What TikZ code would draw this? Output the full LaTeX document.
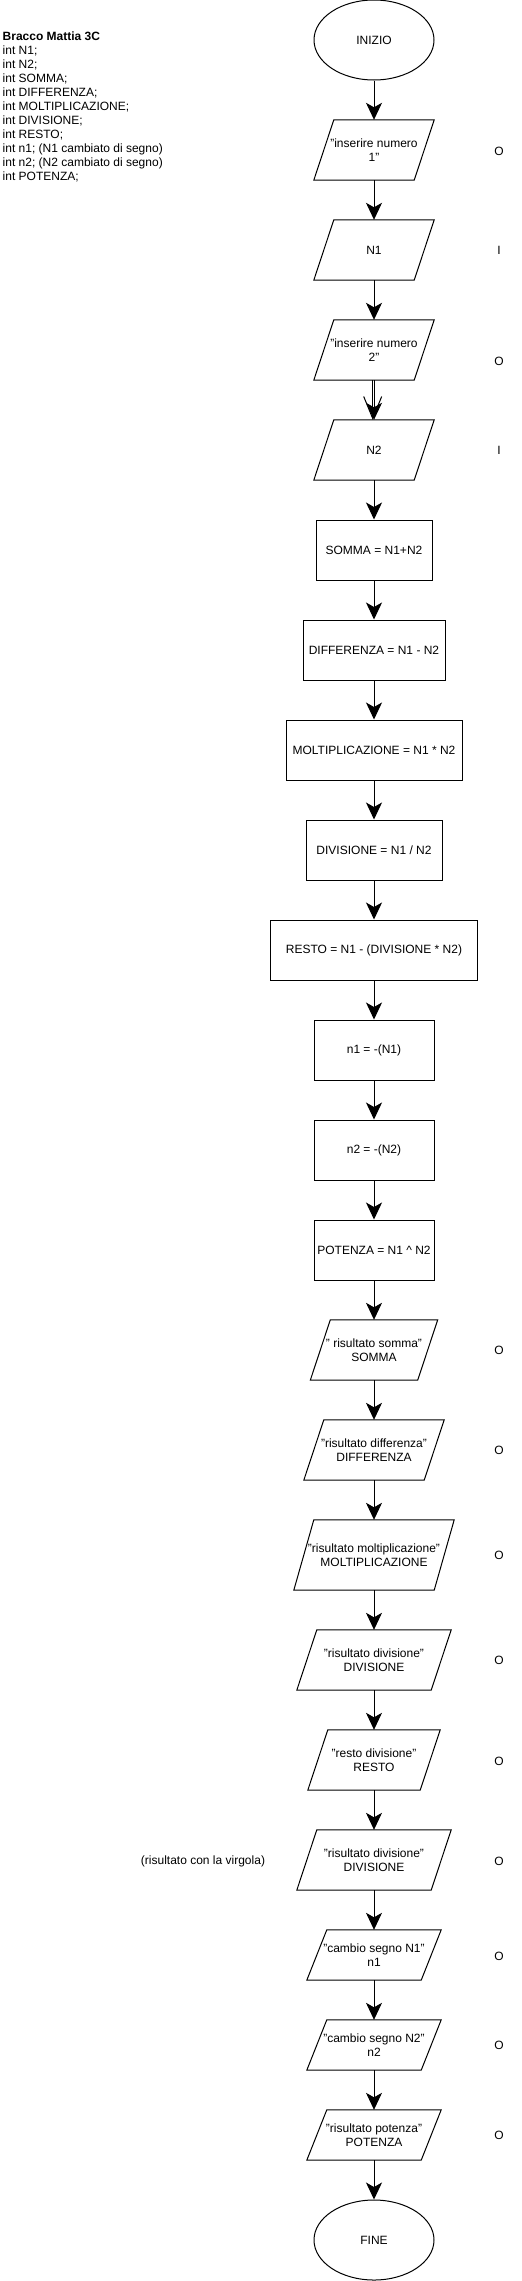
\documentclass[tikz,border=0pt]{standalone}
\usepackage{fontspec}
\setmainfont{Liberation Sans}
\usetikzlibrary{positioning,shapes.geometric,arrows.meta}

\begin{document}
\begin{tikzpicture}[x=1pt,y=-1pt,
	every node/.style={font=\fontsize{12}{14}\selectfont, align=center, inner sep=0pt},
	box/.style={draw, line width=1pt, minimum height=60pt, minimum width=#1},
	term/.style={draw, line width=1pt, ellipse, minimum width=120pt, minimum height=80pt},
	io/.style 2 args={minimum width=#1, minimum height=#2},
	flow/.style={line width=1pt, -{Stealth[length=17pt,width=16pt,inset=4.5pt]}},
	openflow/.style={line width=1pt, -{Straight Barb[length=22pt,width=18pt]}}]

\useasboundingbox (0,0) rectangle (522,2281);

% dichiarazioni
\node[anchor=base west, font=\fontsize{12}{14}\selectfont\bfseries] (title) at (2.5,40.3) {Bracco Mattia 3C};
\foreach \t [count=\i] in {int N1;, int N2;, int SOMMA;, int DIFFERENZA;, int MOLTIPLICAZIONE;, int DIVISIONE;, int RESTO;, int n1; (N1 cambiato di segno), int n2; (N2 cambiato di segno), int POTENZA;}
	\node[anchor=base west] (decl\i) at (2.5,40.3+14*\i) {\t};

% flusso
\node[term] (start) at (374,40) {INIZIO};
\node[io={100pt}{60pt}] (in1) at (374,150) {"inserire numero\\1"};
\node[io={100pt}{60pt}] (num1) at (374,250) {N1};
\node[io={100pt}{60pt}] (in2) at (374,350) {"inserire numero\\2"};
\node[io={100pt}{60pt}] (num2) at (374,450) {N2};
\node[box=116pt] (somma) at (374,550) {SOMMA = N1+N2};
\node[box=142pt] (diff) at (374,650) {DIFFERENZA = N1 - N2};
\node[box=176pt] (molt) at (374,750) {MOLTIPLICAZIONE = N1 * N2};
\node[box=136pt] (div) at (374,850) {DIVISIONE = N1 / N2};
\node[box=207pt] (resto) at (374,950) {RESTO = N1 - (DIVISIONE * N2)};
\node[box=120pt] (neg1) at (374,1050) {n1 = -(N1)};
\node[box=120pt] (neg2) at (374,1150) {n2 = -(N2)};
\node[box=120pt] (pot) at (374,1250) {POTENZA = N1 \textasciicircum{} N2};
\node[io={107pt}{60pt}] (outsomma) at (374,1350) {" risultato somma"\\SOMMA};
\node[io={120pt}{60pt}] (outdiff) at (374,1450) {"risultato differenza"\\DIFFERENZA};
\node[io={140pt}{70pt}] (outmolt) at (374,1555) {"risultato moltiplicazione"\\MOLTIPLICAZIONE};
\node[io={134pt}{60pt}] (outdiv) at (374,1660) {"risultato divisione"\\DIVISIONE};
\node[io={112pt}{60pt}] (outresto) at (374,1760) {"resto divisione"\\RESTO};
\node[io={134pt}{60pt}] (outdivb) at (374,1860) {"risultato divisione"\\DIVISIONE};
\node[io={114pt}{50pt}] (outneg1) at (374,1955) {"cambio segno N1"\\n1};
\node[io={114pt}{50pt}] (outneg2) at (374,2045) {"cambio segno N2"\\n2};
\node[io={114pt}{50pt}] (outpot) at (374,2135) {"risultato potenza"\\POTENZA};
\node[term] (stop) at (374,2240) {FINE};

% parallelogrammi
\foreach \n in {in1,num1,in2,num2,outsomma,outdiff,outmolt,outdiv,outresto,outdivb,outneg1,outneg2,outpot}
	\draw[line width=1pt]([xshift=-10pt]\n.south west)--([xshift=-10pt]\n.south east)--([xshift=10pt]\n.north east)--([xshift=10pt]\n.north west)--cycle;

% input / output
\foreach \y/\t [count=\i] in {151/O,250/I,361/O,450/I,1350/O,1450/O,1555/O,1660/O,1761/O,1861/O,1956/O,2045/O,2135/O}
	\node (tag\i) at (499,\y) {\t};
\node (nota) at (203,1861) {(risultato con la virgola)};

\foreach \a/\b in {start/in1,in1/num1,num1/in2,in2/num2,num2/somma,somma/diff,diff/molt,molt/div,div/resto,resto/neg1,neg1/neg2,neg2/pot,pot/outsomma,outsomma/outdiff,outdiff/outmolt,outmolt/outdiv,outdiv/outresto,outresto/outdivb,outdivb/outneg1,outneg1/outneg2,outneg2/outpot,outpot/stop}
	\draw[flow](\a)--(\b);
\draw[openflow]([xshift=-1.3pt]in2.south)--([xshift=-1.3pt]num2.north);

\end{tikzpicture}
\end{document}
